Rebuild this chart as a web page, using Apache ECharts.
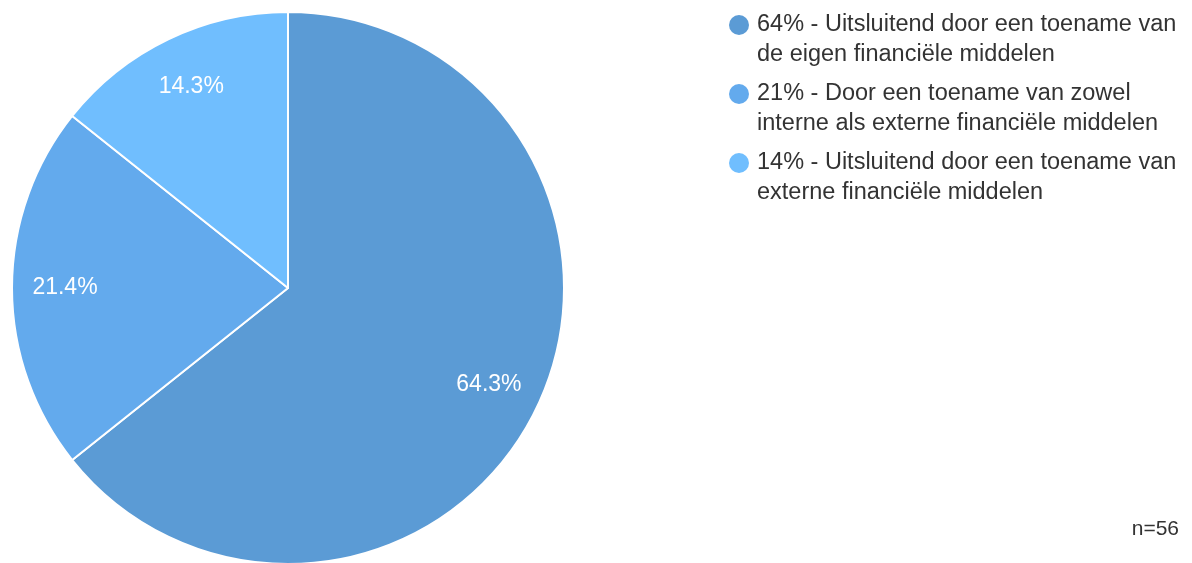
<!DOCTYPE html>
<html>
<head>
<meta charset="utf-8">
<script src="https://cdn.jsdelivr.net/npm/echarts@6/dist/echarts.min.js"></script>
<style>
  html, body { margin: 0; padding: 0; background: #fff; }
  #main { width: 1192px; height: 563px; }
</style>
</head>
<body>
<div id="main"></div>
<script>
// data
var counts = [36, 12, 8];
var totalN = 56;
var legendLines = [
    ['64% - Uitsluitend door een toename van', 'de eigen financiële middelen'],
    ['21% - Door een toename van zowel', 'interne als externe financiële middelen'],
    ['14% - Uitsluitend door een toename van', 'externe financiële middelen']
];
var colors = ['#5b9bd5', '#63aaed', '#70befe'];

var names = legendLines.map(function (l) { return l.join(' '); });

var pieData = counts.map(function (v, i) {
    return { name: names[i], value: v, itemStyle: { color: colors[i] } };
});

// rich styles for the legend dots
var rich = {
    t: { fontSize: 23.5, lineHeight: 30, color: '#333', fontFamily: 'Liberation Sans, Arial, sans-serif', padding: [0, 0, 0, 8] },
    g: { width: 20, height: 20 }
};
colors.forEach(function (c, i) {
    rich['d' + i] = { width: 20, height: 20, borderRadius: 10, backgroundColor: c };
});

var chart = echarts.init(document.getElementById('main'));
chart.setOption({
    animation: false,
    title: {
        text: 'n=' + totalN,
        right: 8,
        bottom: 18,
        textStyle: { fontSize: 21, fontWeight: 'normal', color: '#333', fontFamily: 'Liberation Sans, Arial, sans-serif' }
    },
    legend: {
        orient: 'vertical',
        left: 723,
        top: 10,
        padding: 0,
        itemWidth: 0,
        itemHeight: 0,
        itemGap: 9,
        icon: 'circle',
        selectedMode: false,
        data: names,
        formatter: function (name) {
            var i = names.indexOf(name);
            return '{d' + i + '|}{t|' + legendLines[i][0] + '}\n{g|}{t|' + legendLines[i][1] + '}';
        },
        textStyle: { rich: rich, fontSize: 23.5, lineHeight: 30 }
    },
    series: [
        {
            type: 'pie',
            center: [288, 288],
            radius: 276,
            startAngle: 90,
            clockwise: true,
            label: { show: false },
            labelLine: { show: false },
            itemStyle: { borderColor: '#fff', borderWidth: 2 },
            emphasis: { disabled: true },
            data: pieData
        },
        {
            // transparent ring only used to place the percentage labels
            type: 'pie',
            center: [288, 288],
            radius: [164, 276],
            startAngle: 90,
            clockwise: true,
            silent: true,
            percentPrecision: 1,
            itemStyle: { color: 'rgba(0,0,0,0)', borderWidth: 0 },
            label: {
                show: true,
                position: 'inside',
                formatter: '{d}%',
                color: '#fff',
                fontSize: 23,
                fontFamily: 'Liberation Sans, Arial, sans-serif'
            },
            labelLine: { show: false },
            emphasis: { disabled: true },
            data: pieData.map(function (d) { return { name: d.name, value: d.value }; })
        }
    ]
});
</script>
</body>
</html>
